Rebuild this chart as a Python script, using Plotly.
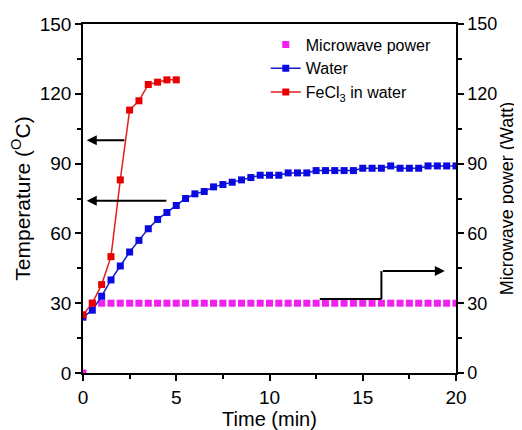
import plotly.graph_objects as go

# ---- data ----
time_water = [i * 0.5 for i in range(41)]
water_temp = [24, 27, 33, 40, 46, 52, 57, 62, 66, 69, 72, 75, 77, 78, 80, 81, 82, 83, 84, 85,
              85, 85, 86, 86, 86, 87, 87, 87, 87, 87, 88, 88, 88, 89, 88, 88, 88, 89, 89, 89, 89]

time_fecl3 = [0, 0.5, 1, 1.5, 2, 2.5, 3, 3.5, 4, 4.5, 5]
fecl3_temp = [25, 30, 38, 50, 83, 113, 117, 124, 125, 126, 126]

time_power = [i * 0.5 for i in range(41)]
power_watt = [0] + [30] * 40

x_ticks = [0, 5, 10, 15, 20]
y_ticks = [0, 30, 60, 90, 120, 150]

# arrows (data coordinates): (tail_x, tail_y, head_x, head_y)
arrow_left_1 = (2.3, 100, 0.2, 100)
arrow_left_2 = (4.55, 74, 0.2, 74)
step_path_x = [12.7, 16.0, 16.0, 19.4]
step_path_y = [31.8, 31.8, 43.8, 43.8]

FONT = "Liberation Sans, Arial, sans-serif"

fig = go.Figure()
# power on the right-hand axis ("y"), temperatures on the left-hand axis ("y2", overlaid on top)
fig.add_trace(go.Scatter(x=time_power, y=power_watt, mode="markers", name="Microwave power",
                         marker=dict(symbol="square", size=7, color="#f020f0"), yaxis="y"))
fig.add_trace(go.Scatter(x=time_water, y=water_temp, mode="lines+markers", name="Water",
                         line=dict(color="#1a1acc", width=1.5),
                         marker=dict(symbol="square", size=7, color="#0a0ae0"), yaxis="y2"))
fig.add_trace(go.Scatter(x=time_fecl3, y=fecl3_temp, mode="lines+markers", name="FeCl<sub>3</sub> in water",
                         line=dict(color="#e02020", width=1.5),
                         marker=dict(symbol="square", size=7, color="#e80000"), yaxis="y2"))

annotations = []
for tx, ty, hx, hy in (arrow_left_1, arrow_left_2):
    annotations.append(dict(x=hx, y=hy, ax=tx, ay=ty, xref="x", yref="y2", axref="x", ayref="y2",
                            text="", showarrow=True, arrowhead=2, arrowsize=1, arrowwidth=2,
                            arrowcolor="black"))
annotations.append(dict(x=step_path_x[3], y=step_path_y[3], ax=step_path_x[2], ay=step_path_y[2],
                        xref="x", yref="y", axref="x", ayref="y", text="", showarrow=True,
                        arrowhead=2, arrowsize=1, arrowwidth=2, arrowcolor="black"))
shapes = []
for i in range(2):
    shapes.append(dict(type="line", xref="x", yref="y",
                       x0=step_path_x[i], y0=step_path_y[i],
                       x1=step_path_x[i + 1], y1=step_path_y[i + 1],
                       line=dict(color="black", width=2)))

axis_common = dict(showgrid=False, zeroline=False, showline=True, linecolor="black", linewidth=1.5,
                   ticks="outside", ticklen=6, tickwidth=1.5, tickcolor="black", automargin=False)
minor_y = dict(ticks="outside", ticklen=4, tickwidth=1.5, tickcolor="black", dtick=15)

fig.update_layout(
    width=514, height=422,
    margin=dict(l=75, r=66, t=16, b=57),
    paper_bgcolor="white", plot_bgcolor="white",
    font=dict(family=FONT, color="black"),
    showlegend=True,
    legend=dict(x=0.49, y=0.99, xanchor="left", yanchor="top", bgcolor="rgba(0,0,0,0)",
                font=dict(family=FONT, size=16, color="black"), tracegroupgap=0, itemwidth=30),
    xaxis=dict(**axis_common, range=[0, 20], tickvals=x_ticks, mirror=True,
               tickfont=dict(family=FONT, size=19, color="black"),
               minor=dict(ticks="outside", ticklen=4, tickwidth=1.5, tickcolor="black", dtick=2.5),
               title=dict(text="Time (min)", font=dict(family=FONT, size=20), standoff=2)),
    yaxis2=dict(**axis_common, range=[0, 150], tickvals=y_ticks, overlaying="y", side="left",
                tickfont=dict(family=FONT, size=19, color="black"), minor=minor_y,
                title=dict(text="Temperature (<sup>O</sup>C)", font=dict(family=FONT, size=21), standoff=4)),
    yaxis=dict(**axis_common, range=[0, 150], tickvals=y_ticks, side="right",
               tickfont=dict(family=FONT, size=18, color="black"), minor=minor_y,
               title=dict(text="Microwave power (Watt)", font=dict(family=FONT, size=18), standoff=2)),
    annotations=annotations,
    shapes=shapes,
)

fig.write_html("out.html")
